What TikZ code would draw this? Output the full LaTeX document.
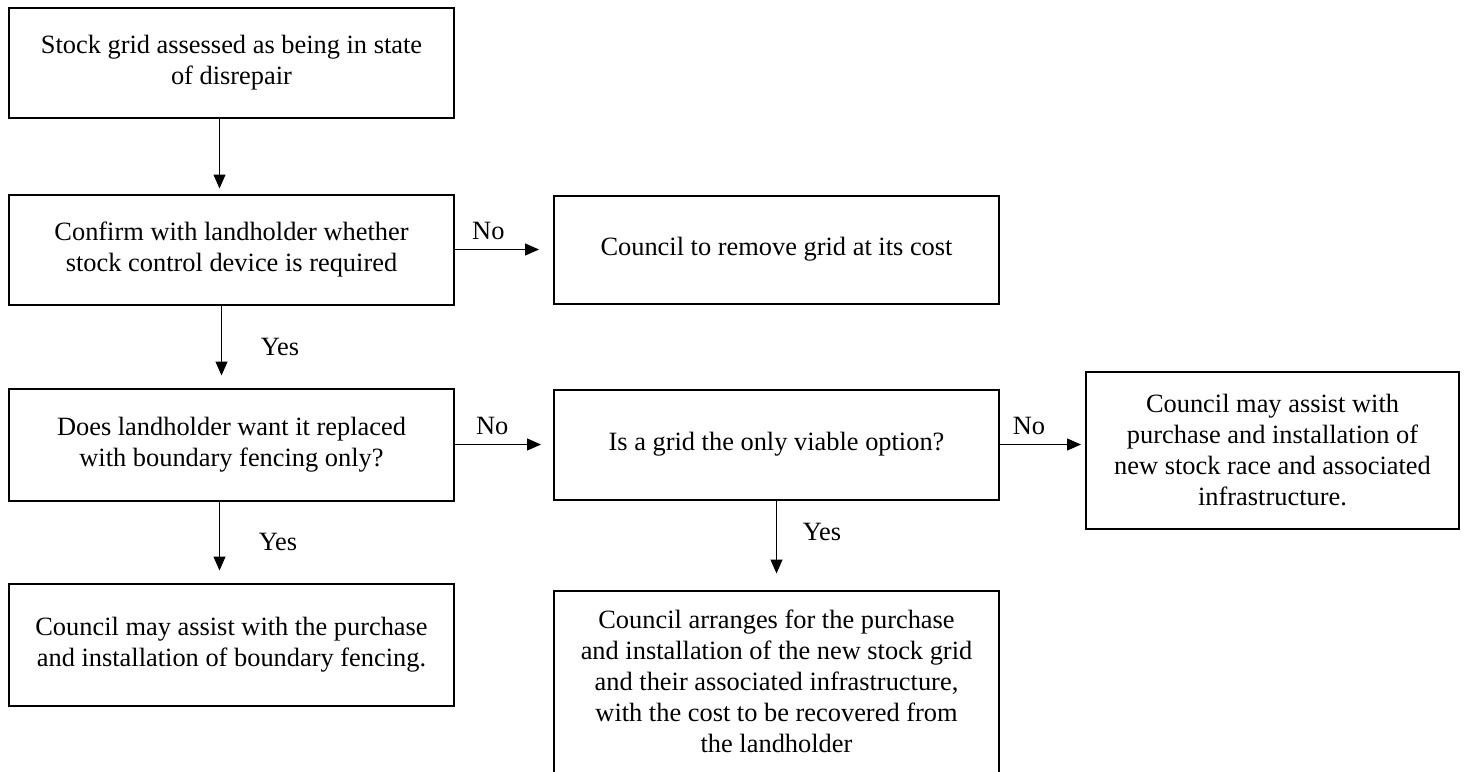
\documentclass[tikz,border=0pt]{standalone}
\usepackage{fontspec}
\setmainfont{Liberation Serif}
\usetikzlibrary{positioning, arrows.meta}
\tikzstyle{box} = [rectangle, minimum width=222.5pt, minimum height=55pt, text centered, align=center, draw=black, line width=1pt]
\tikzstyle{arrow} = [line width=0.6pt, ->, >={Triangle[length=7pt,width=6pt]}, shorten >=6pt]
\begin{document}
\begin{tikzpicture}[font=\fontsize{13.2}{15.5}\selectfont]
          \useasboundingbox (0,0) rectangle (732.5pt,-385.5pt);
          \node (start) [box] at (115.75pt,-31.25pt) {Stock grid assessed as being in state\\of disrepair};
          \node (confirm) [box, below=37.5pt of start] {Confirm with landholder whether\\stock control device is required};
          \node (remove) [box, right=49pt of confirm, minimum height=54pt] {Council to remove grid at its cost};
          \node (fencing) [box, below=41pt of confirm, minimum height=56pt] {Does landholder want it replaced\\with boundary fencing only?};
          \node (option) [box, right=49pt of fencing] {Is a grid the only viable option?};
          \node (race) [box, right=42.5pt of option, yshift=-3pt, minimum width=186.5pt, minimum height=78.5pt] {Council may assist with\\purchase and installation of\\new stock race and associated\\infrastructure.};
          \node (assist) [box, below=40.5pt of fencing, minimum height=61pt] {Council may assist with the purchase\\and installation of boundary fencing.};
          \node (arrange) [box, below=44.5pt of option, minimum height=91pt] {Council arranges for the purchase\\and installation of the new stock grid\\and their associated infrastructure,\\with the cost to be recovered from\\the landholder};
          \draw [arrow, shorten >=2.5pt] ([xshift=-6pt]start.south) -- ([xshift=-6pt]confirm.north);
          \draw [arrow, shorten >=7pt] (confirm.east) -- node[above=1pt, pos=0.34] {No} (remove.west);
          \draw [arrow] ([xshift=-5pt]confirm.south) -- node[right=16pt, midway] {Yes} ([xshift=-5pt]fencing.north);
          \draw [arrow] (fencing.east) -- node[above=1pt, pos=0.38] {No} (fencing.east -| option.west);
          \draw [arrow] ([xshift=-6pt]fencing.south) -- node[right=16pt, midway] {Yes} ([xshift=-6pt]assist.north);
          \draw [arrow, shorten >=2pt] (option.east) -- node[above=1pt, pos=0.34] {No} (option.east -| race.west);
          \draw [arrow, shorten >=8pt] (option.south) -- node[right=9.5pt, pos=0.35] {Yes} (arrange.north);
        \end{tikzpicture}
\end{document}
